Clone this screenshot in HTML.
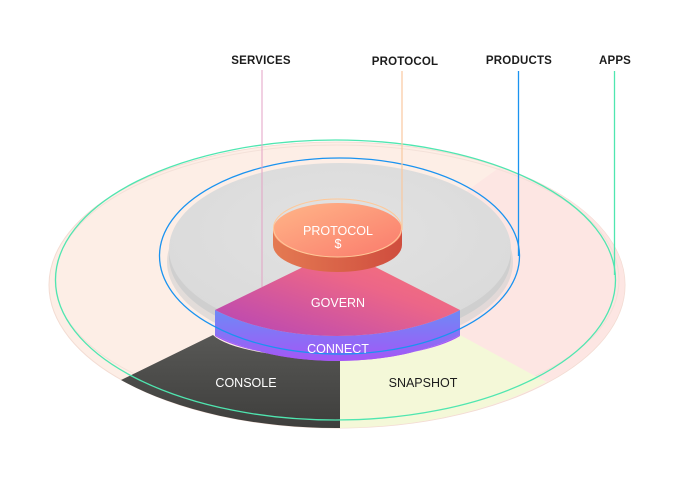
<!DOCTYPE html>
<html><head><meta charset="utf-8"><style>
html,body{margin:0;padding:0;background:#fff;}
svg{display:block;font-family:"Liberation Sans",sans-serif;}
</style></head><body>
<svg width="687" height="500" viewBox="0 0 687 500" xmlns="http://www.w3.org/2000/svg">
<defs>
<linearGradient id="gov" x1="0" y1="1" x2="1" y2="0">
<stop offset="0" stop-color="#b444b8"/><stop offset="0.6" stop-color="#ec6688"/><stop offset="1" stop-color="#fb7872"/>
</linearGradient>
<linearGradient id="con" x1="0" y1="0" x2="0" y2="1">
<stop offset="0" stop-color="#6d8af6"/><stop offset="1" stop-color="#a457f6"/>
</linearGradient>
<linearGradient id="coin" x1="0" y1="0" x2="1" y2="1">
<stop offset="0" stop-color="#ffb688"/><stop offset="1" stop-color="#fa7a6c"/>
</linearGradient>
<linearGradient id="coinside" x1="0" y1="0" x2="1" y2="0">
<stop offset="0" stop-color="#e47a52"/><stop offset="1" stop-color="#cf4d3e"/>
</linearGradient>
<linearGradient id="cons" x1="0" y1="0" x2="0" y2="1">
<stop offset="0" stop-color="#585856"/><stop offset="1" stop-color="#3e3e3c"/>
</linearGradient>
<radialGradient id="grey" cx="0.5" cy="0.4" r="0.6">
<stop offset="0" stop-color="#e2e2e2"/><stop offset="1" stop-color="#dadada"/>
</radialGradient>
</defs>

<ellipse cx="337" cy="285" rx="288" ry="143" fill="#fdeee6" stroke="#f3dcd3" stroke-width="1"/>
<path d="M337 285 L548 382 A288 143 0 0 0 500 167 Z" fill="#fde6e3"/>
<ellipse cx="337" cy="280" rx="282" ry="135" fill="none" stroke="#efdcd3" stroke-width="1" opacity="0.7"/>
<path d="M213 335 L121 380 A288 143 0 0 0 340 428 L340 358 A125 30 0 0 1 213 335 Z" fill="url(#cons)"/>
<path d="M460 335 L546 382 A288 143 0 0 1 340 428 L340 358 A125 30 0 0 0 460 335 Z" fill="#f4f8d8"/>

<ellipse cx="335.5" cy="280" rx="280" ry="140" fill="none" stroke="#4fe6b0" stroke-width="1.3"/>

<ellipse cx="340" cy="262" rx="173" ry="88" fill="#d0d0d0" opacity="0.6"/>
<ellipse cx="340" cy="257" rx="171" ry="86" fill="#cfcfcf"/>
<ellipse cx="340" cy="249" rx="171" ry="86" fill="url(#grey)"/>

<path d="M215 310 A171 86 0 0 0 460 310 L460 335 A171 86 0 0 1 215 335 Z" fill="url(#con)"/>
<path d="M215 335 A171 86 0 0 0 460 335 L460 336 A150 40 0 0 1 340 360 A150 40 0 0 1 215 336 Z" fill="#a457f6"/>
<path d="M340 249 L215 310 A171 86 0 0 0 460 310 Z" fill="url(#gov)"/>

<ellipse cx="339.5" cy="256" rx="180" ry="98" fill="none" stroke="#1a93f0" stroke-width="1.3"/>

<path d="M273 230 L273 245 A64.5 27 0 0 0 402 245 L402 230 Z" fill="url(#coinside)"/>
<ellipse cx="337.5" cy="230" rx="64.5" ry="27" fill="url(#coin)"/>
<ellipse cx="337.5" cy="228" rx="64" ry="29" fill="none" stroke="#ffc898" stroke-width="1"/>

<line x1="262" y1="70" x2="262" y2="287" stroke="#e3a2c4" stroke-width="1"/>
<line x1="402" y1="71" x2="402" y2="230" stroke="#f9c9a0" stroke-width="1.2"/>
<line x1="518.5" y1="71" x2="518.5" y2="256" stroke="#1a93f0" stroke-width="1.3"/>
<line x1="614.5" y1="71" x2="614.5" y2="275" stroke="#4fe6b0" stroke-width="1.3"/>

<g font-size="11.5" font-weight="bold" fill="#1c1c1c" text-anchor="middle" letter-spacing="0.2">
<text x="261" y="64">SERVICES</text>
<text x="405" y="65">PROTOCOL</text>
<text x="519" y="64">PRODUCTS</text>
<text x="615" y="64">APPS</text>
</g>
<g font-size="12.5" fill="#fff" text-anchor="middle">
<text x="338" y="235">PROTOCOL</text>
<text x="338" y="248">$</text>
<text x="338" y="307">GOVERN</text>
<text x="338" y="353">CONNECT</text>
<text x="246" y="387">CONSOLE</text>
<text x="423" y="387" fill="#1c1c1c">SNAPSHOT</text>
</g>
</svg>
</body></html>
